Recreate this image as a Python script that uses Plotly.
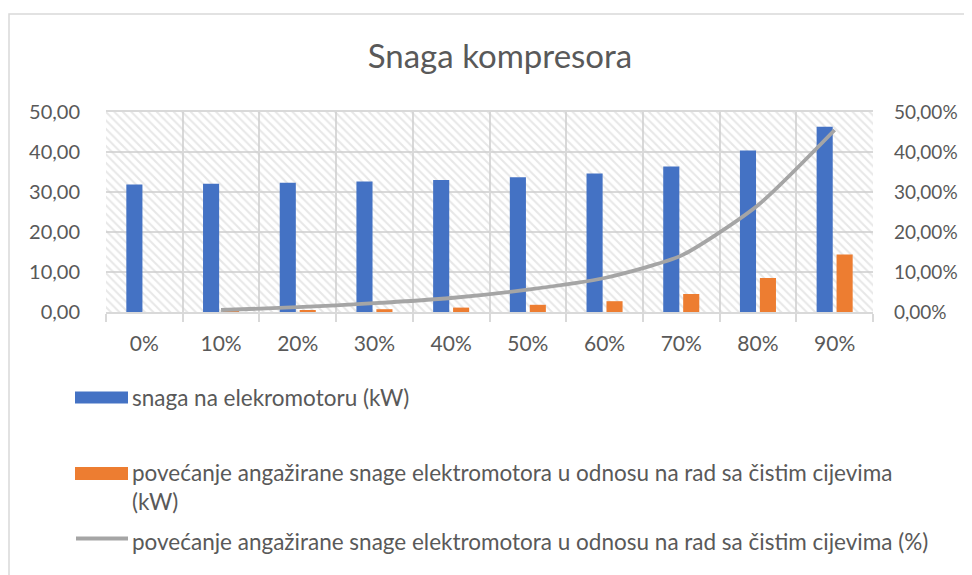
import plotly.graph_objects as go

# ---------------- data ----------------
categories = ["0%", "10%", "20%", "30%", "40%", "50%", "60%", "70%", "80%", "90%"]
snaga_kw = [31.9, 32.05, 32.3, 32.6, 33.0, 33.7, 34.6, 36.4, 40.4, 46.3]
povecanje_kw = [0.0, 0.15, 0.38, 0.7, 1.1, 1.8, 2.7, 4.5, 8.5, 14.4]
povecanje_pct = [None, 0.005, 0.012, 0.022, 0.035, 0.056, 0.085, 0.141, 0.267, 0.455]

series_names = [
    "snaga na elekromotoru (kW)",
    "povećanje angažirane snage elektromotora u odnosu na rad sa čistim cijevima<br>(kW)",
    "povećanje angažirane snage elektromotora u odnosu na rad sa čistim cijevima (%)",
]
title_text = "Snaga kompresora"
Y_MAX = 50
Y2_MAX = 0.5

# ---------------- style ----------------
BLUE = "#4472C4"
ORANGE = "#ED7D31"
GRAY = "#A5A5A5"
TEXT = "#595959"
GRID = "#D9D9D9"
FONT = "Lato"

OFF = 8  # default body margin of the html page
PAGE_W, PAGE_H = 972, 575
W, H = PAGE_W - OFF, PAGE_H - OFF
# plot area in page pixels: x 106..873, y 112..312
ML, MR, MT, MB = 106 - OFF, PAGE_W - 873, 112 - OFF, PAGE_H - 312
PW, PH = W - ML - MR, H - MT - MB


def px_x(px):  # page pixel -> paper
    return (px - OFF - ML) / PW


def px_y(py):
    return (H - MB - (py - OFF)) / PH


fig = go.Figure()

# hatched plot-area background
fig.add_trace(go.Bar(
    x=[categories[0]], y=[Y_MAX], width=len(categories), offset=-0.5,
    marker=dict(color="rgba(255,255,255,0)", line=dict(width=0),
                pattern=dict(shape="\\", fgcolor="#CFCFCF", bgcolor="rgba(255,255,255,0)",
                             size=6, solidity=0.33)),
    hoverinfo="skip", showlegend=False,
))

fig.add_trace(go.Bar(
    x=categories, y=snaga_kw, name=series_names[0], width=0.21, offset=-0.235,
    marker=dict(color=BLUE, line=dict(width=0)), showlegend=False,
))
fig.add_trace(go.Bar(
    x=categories, y=povecanje_kw, name=series_names[1], width=0.21, offset=0.025,
    marker=dict(color=ORANGE, line=dict(width=0)), showlegend=False,
))
fig.add_trace(go.Scatter(
    x=categories, y=povecanje_pct, name=series_names[2], yaxis="y2",
    mode="lines", line=dict(color=GRAY, width=3.8, shape="spline", smoothing=0.6),
    connectgaps=False, showlegend=False,
))

shapes = [
    # chart border
    dict(type="rect", xref="paper", yref="paper",
         x0=px_x(9), x1=px_x(PAGE_W + 20), y0=px_y(PAGE_H + 20), y1=px_y(14),
         line=dict(color=GRID, width=1.5), layer="below"),
    # legend swatches
    dict(type="rect", xref="paper", yref="paper",
         x0=px_x(75), x1=px_x(128), y0=px_y(403.5), y1=px_y(391.5),
         fillcolor=BLUE, line=dict(width=0)),
    dict(type="rect", xref="paper", yref="paper",
         x0=px_x(75), x1=px_x(128), y0=px_y(480), y1=px_y(467),
         fillcolor=ORANGE, line=dict(width=0)),
    dict(type="line", xref="paper", yref="paper",
         x0=px_x(76), x1=px_x(128), y0=px_y(538.5), y1=px_y(538.5),
         line=dict(color=GRAY, width=4)),
]

LEG_SIZE = 22.5
annotations = [
    dict(text=series_names[0], x=px_x(130), y=px_y(397), xref="paper", yref="paper",
         xanchor="left", yanchor="middle", showarrow=False, align="left",
         font=dict(family=FONT, size=LEG_SIZE, color=TEXT)),
    dict(text=series_names[1], x=px_x(130), y=px_y(487), xref="paper", yref="paper",
         xanchor="left", yanchor="middle", showarrow=False, align="left",
         font=dict(family=FONT, size=LEG_SIZE, color=TEXT)),
    dict(text=series_names[2], x=px_x(130), y=px_y(541), xref="paper", yref="paper",
         xanchor="left", yanchor="middle", showarrow=False, align="left",
         font=dict(family=FONT, size=LEG_SIZE, color=TEXT)),
]

TICK_SIZE = 20
fig.update_layout(
    width=W, height=H,
    margin=dict(l=ML, r=MR, t=MT, b=MB, pad=0, autoexpand=False),
    paper_bgcolor="white", plot_bgcolor="white",
    separators=",.",
    barmode="overlay",
    showlegend=False,
    font=dict(family=FONT, color=TEXT, size=TICK_SIZE),
    title=dict(text=title_text, x=px_x(500), xref="paper", xanchor="center",
               y=1 - (56 - OFF) / H, yref="container", yanchor="middle",
               font=dict(family=FONT, size=33, color=TEXT)),
    xaxis=dict(type="category", tickson="boundaries", ticks="outside", ticklen=8,
               tickcolor=GRID, tickwidth=1.5, showgrid=True, gridcolor=GRID, gridwidth=1.5,
               showline=True, linecolor=GRID, linewidth=1.5, mirror=True,
               ticklabelstandoff=12, automargin=False,
               tickfont=dict(family=FONT, size=21, color=TEXT),
               range=[-0.5, len(categories) - 0.5]),
    yaxis=dict(range=[0, Y_MAX], dtick=10, tickformat=".2f", showgrid=True,
               gridcolor=GRID, gridwidth=1.5, zeroline=False, showline=False,
               ticks="outside", ticklen=21, tickcolor="rgba(0,0,0,0)", automargin=False,
               tickfont=dict(family=FONT, size=TICK_SIZE, color=TEXT)),
    yaxis2=dict(range=[0, Y2_MAX], dtick=0.1, tickformat=".2%", overlaying="y",
                side="right", showgrid=False, zeroline=False, showline=False,
                ticks="", ticklabelstandoff=20, automargin=False,
                tickfont=dict(family=FONT, size=19, color=TEXT)),
    shapes=shapes,
    annotations=annotations,
)

fig.write_html("out.html")
